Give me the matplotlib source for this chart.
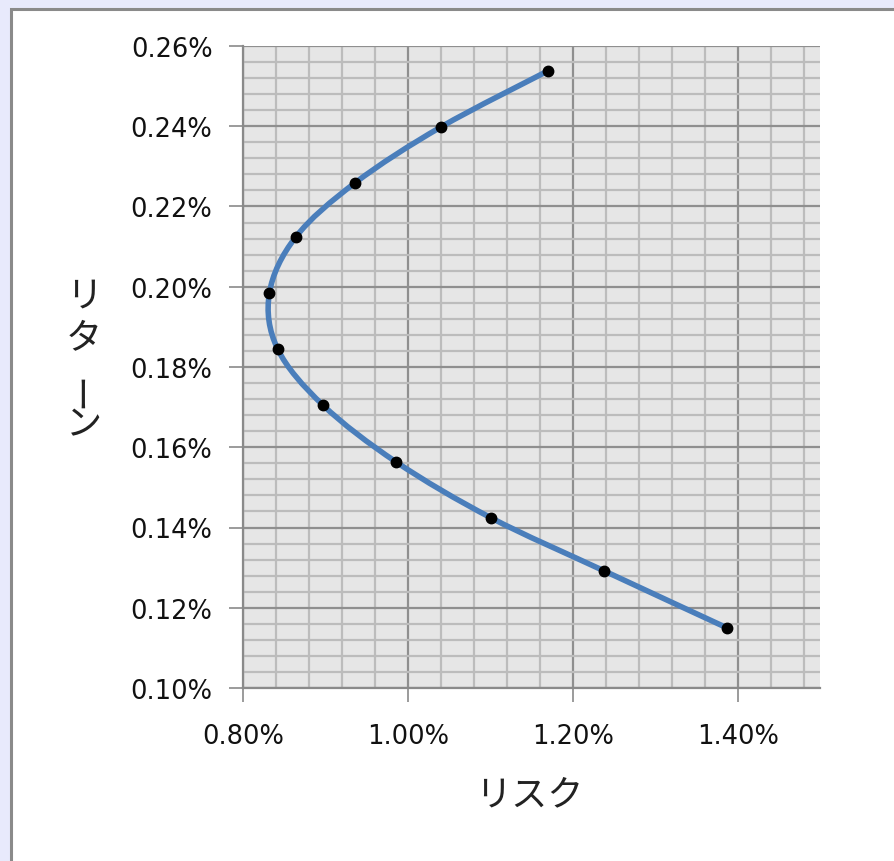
import matplotlib
matplotlib.use("Agg")
import matplotlib.pyplot as plt
from matplotlib.path import Path
from matplotlib.patches import PathPatch, Rectangle
from matplotlib.ticker import MultipleLocator, FuncFormatter

plt.rcParams["font.family"] = ["DejaVu Sans", "Noto Sans CJK JP"]

# efficient frontier points, in percent
risk = [1.170, 1.040, 0.936, 0.864, 0.832, 0.842, 0.897, 0.986, 1.101, 1.238, 1.387]
ret = [0.2538, 0.2398, 0.2259, 0.2124, 0.1984, 0.1845, 0.1705, 0.1563, 0.1424, 0.1292, 0.1150]

x_label = "リスク"
y_label = ["リ", "タ", "ー", "ン"]

C_LINE = "#4a7ebb"
C_MAJOR = "#8f8f8f"
C_MINOR = "#bcbcbc"


def smooth_path(xs, ys):
    """Excel-like smoothed line: Catmull-Rom turned into cubic Beziers."""
    pts = list(zip(xs, ys))
    ext = [pts[0]] + pts + [pts[-1]]
    verts = [pts[0]]
    codes = [Path.MOVETO]
    for i in range(1, len(ext) - 2):
        p0, p1, p2, p3 = ext[i - 1], ext[i], ext[i + 1], ext[i + 2]
        c1 = (p1[0] + (p2[0] - p0[0]) / 6, p1[1] + (p2[1] - p0[1]) / 6)
        c2 = (p2[0] - (p3[0] - p1[0]) / 6, p2[1] - (p3[1] - p1[1]) / 6)
        verts += [c1, c2, p2]
        codes += [Path.CURVE4] * 3
    return Path(verts, codes)


fig = plt.figure(figsize=(8.95, 8.62), dpi=100)
fig.patch.set_facecolor("#e8eafc")
# white chart area with grey frame
frame = Rectangle((11 / 895, -0.1), 1.1, 1.1 - 10 / 862, transform=fig.transFigure,
                  facecolor="white", edgecolor="#8a8a8a", linewidth=2.2, zorder=-5)
fig.patches.append(frame)

ax = fig.add_axes([243 / 895, 1 - 689 / 862, (820 - 243) / 895, (689 - 47) / 862])
ax.set_facecolor("#e6e6e6")
ax.set_xlim(0.80, 1.50)
ax.set_ylim(0.10, 0.26)

ax.xaxis.set_major_locator(MultipleLocator(0.2))
ax.xaxis.set_minor_locator(MultipleLocator(0.04))
ax.yaxis.set_major_locator(MultipleLocator(0.02))
ax.yaxis.set_minor_locator(MultipleLocator(0.004))
fmt = FuncFormatter(lambda v, p: f"{v:.2f}%")
ax.xaxis.set_major_formatter(fmt)
ax.yaxis.set_major_formatter(fmt)

ax.grid(which="minor", color=C_MINOR, linewidth=1.6)
ax.grid(which="major", color=C_MAJOR, linewidth=1.6)
ax.set_axisbelow(True)

for s in ["top", "right"]:
    ax.spines[s].set_visible(False)
for s in ["left", "bottom"]:
    ax.spines[s].set_color("#8a8a8a")
    ax.spines[s].set_linewidth(1.6)

ax.tick_params(which="major", direction="out", length=10, width=1.2, color="#8a8a8a",
               labelsize=18.5, labelcolor="#111111")
ax.tick_params(axis="x", which="major", pad=15)
ax.tick_params(axis="y", which="major", pad=12)
ax.tick_params(which="minor", length=0)

ax.add_patch(PathPatch(smooth_path(risk, ret), fill=False, edgecolor=C_LINE,
                       linewidth=4.0, capstyle="round", zorder=3))
ax.plot(risk, ret, linestyle="none", marker="o", markersize=7.5,
        color="black", zorder=4)

fig.text(529 / 895, 1 - 795 / 862, x_label, ha="center", va="center",
         fontsize=26, family="Noto Sans CJK JP", color="#222222")
ys = [297, 338, 390, 425]
for ch, yy in zip(y_label, ys):
    fig.text(84 / 895, 1 - yy / 862, ch, ha="center", va="center",
             fontsize=26, family="Noto Sans CJK JP", color="#222222",
             rotation=90 if ch == "ー" else 0)

fig.savefig("out.png", dpi=100, facecolor=fig.get_facecolor())
